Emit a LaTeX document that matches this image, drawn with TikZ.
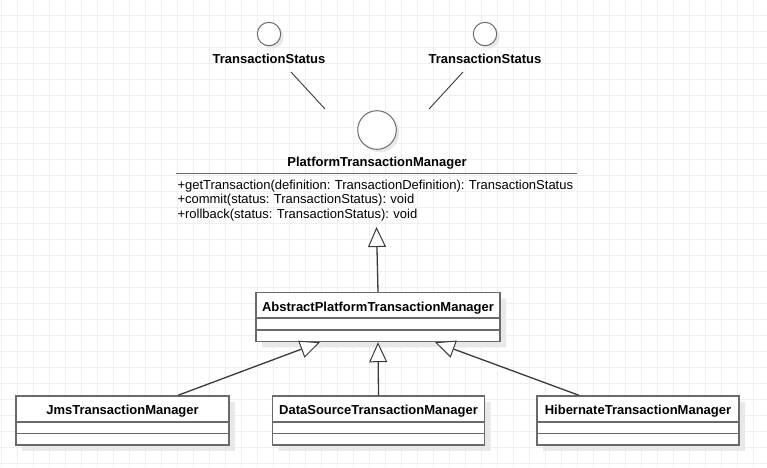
\documentclass[tikz,border=0pt]{standalone}
\usepackage{fontspec}
\setmainfont{Liberation Sans}
\usetikzlibrary{positioning, arrows.meta, shapes.multipart, shadows}
\definecolor{gridgray}{HTML}{EFEFEF}
\definecolor{umlborder}{HTML}{6A6A6A}
\definecolor{umlline}{HTML}{3A3A3A}
\definecolor{shadowgray}{HTML}{E8E8E8}
\newcommand{\umlfont}{\fontsize{13}{14.5}\selectfont\frenchspacing}
\tikzset{
  gridline/.style={
    draw=gridgray,
    line width=1pt
  },
  classbox/.style={
    draw=umlborder,
    line width=1.6pt,
    fill=white,
    rectangle split,
    rectangle split parts=3,
    rectangle split empty part height=10pt,
    inner xsep=0pt,
    inner ysep=0pt,
    text width=#1,
    align=center,
    font=\umlfont\bfseries,
    drop shadow={shadow xshift=6pt, shadow yshift=-6pt, opacity=1, fill=shadowgray}
  },
  iface/.style={
    draw=umlborder,
    circle,
    line width=1pt,
    fill=white,
    inner sep=0pt,
    drop shadow={shadow xshift=3pt, shadow yshift=-3pt, opacity=1, fill=shadowgray}
  },
  iname/.style={
    font=\umlfont\bfseries,
    inner sep=0pt
  },
  ops/.style={
    font=\umlfont,
    text width=398pt,
    inner xsep=1.5pt,
    inner ysep=6pt,
    align=left
  },
  sepline/.style={
    draw=umlborder,
    line width=1.8pt
  },
  link/.style={
    draw=umlline,
    line width=0.9pt
  },
  gen/.style={
    draw=umlline,
    line width=1.3pt,
    -{Triangle[length=20pt, width=18pt, fill=white, line width=1pt]}
  }
}
\newcommand{\cname}[1]{\rule[-6pt]{0pt}{24pt}#1}

\begin{document}
\begin{tikzpicture}[x=1pt, y=-1pt]
  \useasboundingbox[fill=white] (0,0) rectangle (767,467);
  \foreach \gx in {1,17,...,767}
    \draw[gridline] (\gx,0) -- (\gx,467);
  \foreach \gy in {15.5,31.5,...,467}
    \draw[gridline] (0,\gy) -- (767,\gy);

  \node[iface, minimum size=23.4pt] (ts1) at (269,34) {};
  \node[iname, below=7.5pt of ts1] (ts1-name) {TransactionStatus};
  \node[iface, minimum size=23.4pt] (ts2) at (485,34) {};
  \node[iname, below=7.5pt of ts2] (ts2-name) {TransactionStatus};

  \node[iface, minimum size=38.6pt] (ptm) at (377,130) {};
  \node[iname, below=7pt of ptm] (ptm-name) {PlatformTransactionManager};
  \node[ops, anchor=north] (ops) at (376.5,173.5) {+getTransaction(definition: TransactionDefinition): TransactionStatus\\+commit(status: TransactionStatus): void\\+rollback(status: TransactionStatus): void};
  \draw[sepline] (ops.north west) -- (ops.north east);

  \coordinate (ts1-end) at (291,72);
  \coordinate (ptm-end1) at (325,109);
  \coordinate (ts2-end) at (463,72);
  \coordinate (ptm-end2) at (429,109);
  \draw[link] (ts1-end) -- (ptm-end1);
  \draw[link] (ts2-end) -- (ptm-end2);

  \node[classbox=244pt] (abs) at (378,317) {\cname{AbstractPlatformTransactionManager}};
  \node[classbox=213pt] (jms) at (122.5,420.5) {\cname{JmsTransactionManager}};
  \node[classbox=212pt] (dss) at (378.5,420.5) {\cname{DataSourceTransactionManager}};
  \node[classbox=202pt] (hib) at (638,420.5) {\cname{HibernateTransactionManager}};

  \draw[gen] (abs.north) -- (ops.south);
  \draw[gen] ([xshift=55.5pt]jms.north) -- ([xshift=-58pt]abs.south);
  \draw[gen] (dss.north) -- (abs.south);
  \draw[gen] ([xshift=-59pt]hib.north) -- ([xshift=57pt]abs.south);
\end{tikzpicture}
\end{document}
